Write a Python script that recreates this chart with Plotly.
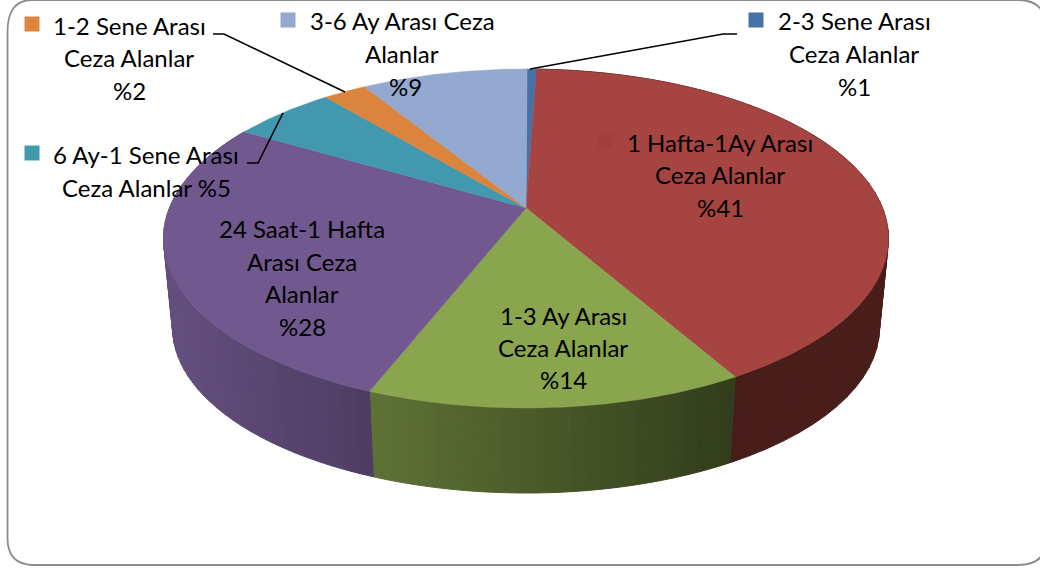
import numpy as np
import plotly.graph_objects as go

# Slices, clockwise from the top of the pie
categories = ["2-3 Sene Arası Ceza Alanlar", "1 Hafta-1Ay Arası Ceza Alanlar", "1-3 Ay Arası Ceza Alanlar",
              "24 Saat-1 Hafta Arası Ceza Alanlar", "6 Ay-1 Sene Arası Ceza Alanlar",
              "1-2 Sene Arası Ceza Alanlar", "3-6 Ay Arası Ceza Alanlar"]
shares = [0.5, 41.2, 14.2, 27.5, 5.5, 2.3, 8.8]
colors = ["#4572A7", "#A64442", "#89A54E", "#71588F", "#4198AF", "#DB843D", "#93A9CF"]
side_left = [None, "#431B18", "#5F7336", "#654F80", None, None, None]
side_right = [None, "#4A1E1B", "#323D1B", "#4E3D62", None, None, None]

# Label lines: (text, centre x, centre y)
label_lines = [
    [("2-3 Sene Arası", 854, 20), ("Ceza Alanlar", 854, 53), ("%1", 854, 86)],
    [("1 Hafta-1Ay Arası", 720, 142), ("Ceza Alanlar", 720, 174), ("%41", 720, 207)],
    [("1-3 Ay Arası", 563, 315), ("Ceza Alanlar", 563, 347), ("%14", 563, 379)],
    [("24 Saat-1 Hafta", 302, 228), ("Arası Ceza", 302, 261), ("Alanlar", 302, 293), ("%28", 302, 326)],
    [("6 Ay-1 Sene Arası", 146, 154), ("Ceza Alanlar %5", 146, 187)],
    [("1-2 Sene Arası", 129, 25), ("Ceza Alanlar", 129, 57), ("%2", 129, 90)],
    [("3-6 Ay Arası Ceza", 402, 20), ("Alanlar", 402, 53), ("%9", 405, 86)],
]
key_x = [756, 605, 477, 197, 32, 32, 288]
key_y = [20, 141, 315, 227, 153, 24, 20]
key_colors = ["#4572A7", "#A2403F", "#88A44D", "#70578E", "#4198AF", "#DB843D", "#93A9CF"]
leaders = [
    ([737, 723, 530], [34, 34, 69]),
    ([213, 224, 345], [34, 34, 92]),
    ([247, 258, 283], [163, 163, 113]),
]
start_angle = 0.2


def project(theta, top=True):
    """Perspective view of the disc; theta in degrees clockwise from the far side."""
    t = np.radians(theta)
    X, Y = np.sin(t), np.cos(t)
    w = 1 + 0.18 * Y
    s, y0 = (1.0, 208.0) if top else (0.975, 298.0)
    return 526 + s * 356.6 * X / w, y0 - s * 164.0 * Y / w


def rgb(h):
    return np.array([int(h[i:i + 2], 16) for i in (1, 3, 5)], float)


edges = start_angle + np.concatenate([[0], np.cumsum(shares)]) * 3.6
fig = go.Figure()


def poly(xs, ys, color, lw=0):
    fig.add_trace(go.Scatter(x=list(xs), y=list(ys), mode="lines", fill="toself", fillcolor=color,
                             line=dict(color=color, width=lw), hoverinfo="skip", showlegend=False))


# Side wall, as thin shaded strips
for i, (a, b) in enumerate(zip(edges[:-1], edges[1:])):
    if side_left[i] is None:
        continue
    ts = np.linspace(a, b, 46)
    xt, yt = project(ts, True)
    xb, yb = project(ts, False)
    lo, hi = xb.min(), xb.max()
    for j in range(len(ts) - 1):
        f = ((xb[j] + xb[j + 1]) / 2 - lo) / (hi - lo)
        c = rgb(side_left[i]) * (1 - f) + rgb(side_right[i]) * f
        col = "rgb(%d,%d,%d)" % tuple(c)
        poly([xt[j], xt[j + 1], xb[j + 1], xb[j], xt[j]], [yt[j], yt[j + 1], yb[j + 1], yb[j], yt[j]], col, 1)

# Top face
for i, (a, b) in enumerate(zip(edges[:-1], edges[1:])):
    ts = np.linspace(a, b, max(3, int((b - a) * 2)))
    xt, yt = project(ts, True)
    poly(np.concatenate([[526.0], xt, [526.0]]), np.concatenate([[208.0], yt, [208.0]]), colors[i], 0.5)

# Leader lines
for lx, ly in leaders:
    fig.add_trace(go.Scatter(x=lx, y=ly, mode="lines", line=dict(color="black", width=1.6),
                             hoverinfo="skip", showlegend=False))

# Label keys
fig.add_trace(go.Scatter(x=key_x, y=key_y, mode="markers",
                         marker=dict(symbol="square", size=15, color=key_colors, line=dict(width=0)),
                         hoverinfo="skip", showlegend=False))

annotations = []
for lines in label_lines:
    for text, x, y in lines:
        annotations.append(dict(x=x, y=y, xref="x", yref="y", text=text, showarrow=False,
                                xanchor="center", yanchor="middle",
                                font=dict(family="Lato", size=24, color="black")))

frame = ("M 7.5,32 Q 7.5,0 32,0 L 1018,0 Q 1046,0 1046,28 L 1046,540 Q 1046,565 1018,565 "
         "L 34,565 Q 7.5,565 7.5,538 Z")
fig.update_layout(
    width=1040, height=569, margin=dict(l=0, r=0, t=0, b=0),
    paper_bgcolor="white", plot_bgcolor="white", showlegend=False,
    xaxis=dict(range=[0, 1040], visible=False, fixedrange=True),
    yaxis=dict(range=[569, 0], visible=False, fixedrange=True),
    annotations=annotations,
    shapes=[dict(type="path", path=frame, xref="x", yref="y", layer="below",
                 line=dict(color="#8C8C8C", width=1.8), fillcolor="white")],
)
fig.write_html("out.html", config=dict(displayModeBar=False),
               post_script="document.body.style.margin='0';document.documentElement.style.overflow='hidden';")
